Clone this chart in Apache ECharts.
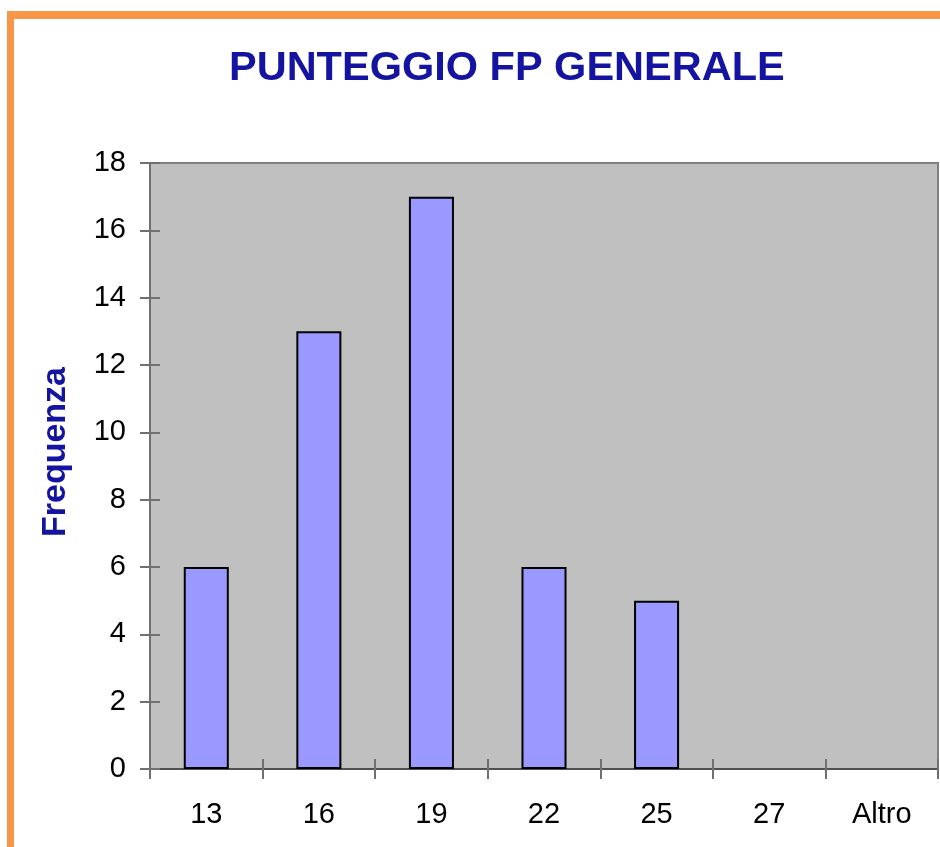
<!DOCTYPE html>
<html>
<head>
<meta charset="utf-8">
<script src="https://cdn.jsdelivr.net/npm/echarts@6/dist/echarts.min.js"></script>
<style>
html,body{margin:0;padding:0;background:#fff;}
#c{width:940px;height:847px;}
</style>
</head>
<body>
<div id="c"></div>
<script>
var categories = ['13', '16', '19', '22', '25', '27', 'Altro'];
var frequencies = [6, 13, 17, 6, 5, 0, 0];
var titleText = 'PUNTEGGIO FP GENERALE';
var yName = 'Frequenza';

var chart = echarts.init(document.getElementById('c'));
var font = '"Liberation Sans", Arial, sans-serif';
chart.setOption({
  animation: false,
  backgroundColor: '#ffffff',
  title: {
    text: titleText,
    left: 224,
    top: 43,
    textStyle: { fontFamily: font, fontSize: 41.5, fontWeight: 'bold', color: '#1414a0' }
  },
  graphic: [
    { type: 'rect', shape: { x: 7, y: 11, width: 933, height: 8 }, style: { fill: '#f79646' }, z: 100 },
    { type: 'rect', shape: { x: 7, y: 11, width: 7, height: 836 }, style: { fill: '#f79646' }, z: 100 },
    { type: 'text', x: 56, y: 452, rotation: Math.PI / 2,
      style: { text: yName, font: 'bold 34px ' + font, fill: '#1414a0', align: 'center', verticalAlign: 'middle' } }
  ],
  grid: {
    left: 150, right: 2, top: 163, bottom: 78,
    show: true, backgroundColor: '#c0c0c0', borderColor: '#808080', borderWidth: 2
  },
  xAxis: [{
    type: 'category',
    data: categories,
    axisLine: { lineStyle: { color: '#505050', width: 2 } },
    axisTick: { show: true, length: 10, lineStyle: { color: '#707070', width: 2 } },
    axisLabel: { fontFamily: font, fontSize: 29, color: '#000', margin: 31 }
  }, {
    type: 'category',
    data: categories,
    position: 'bottom',
    axisLine: { show: false },
    axisTick: { show: true, inside: true, length: 10, lineStyle: { color: '#707070', width: 2 } },
    axisLabel: { show: false }
  }],
  yAxis: [{
    type: 'value',
    min: 0, max: 18, interval: 2,
    axisLine: { show: true, lineStyle: { color: '#707070', width: 2 } },
    axisTick: { show: true, length: 10, lineStyle: { color: '#707070', width: 2 } },
    axisLabel: { fontFamily: font, fontSize: 29, color: '#000', margin: 24 },
    splitLine: { show: false }
  }, {
    type: 'value',
    min: 0, max: 18, interval: 2,
    position: 'left',
    axisLine: { show: false },
    axisTick: { show: true, inside: true, length: 10, lineStyle: { color: '#707070', width: 2 } },
    axisLabel: { show: false },
    splitLine: { show: false }
  }],
  series: [{
    type: 'bar',
    data: frequencies.map(function (v) {
      return { value: v, itemStyle: { borderWidth: v === 0 ? 0 : 2 } };
    }),
    barWidth: '40%',
    itemStyle: { color: '#9999ff', borderColor: '#000000', borderWidth: 2 }
  }]
});
</script>
</body>
</html>
